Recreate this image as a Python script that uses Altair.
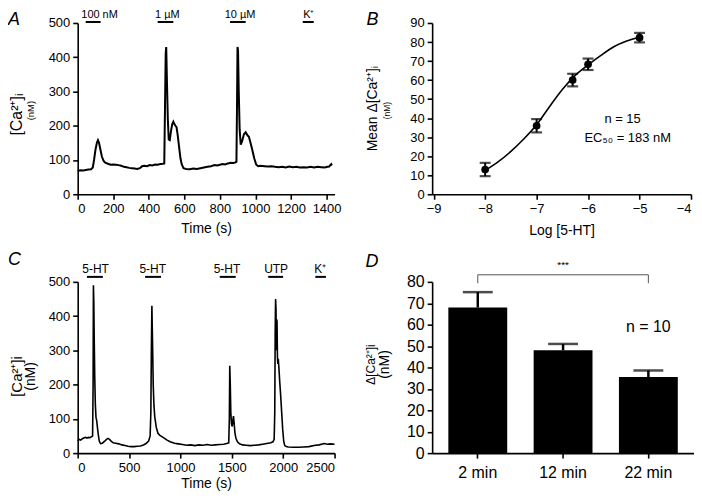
import altair as alt
import pandas as pd

FONT = "Liberation Sans"

# ---------------- Panel A : trace ----------------
a_time = [0, 15, 30, 45, 60, 75, 85, 92, 100, 108, 114, 120, 128, 136, 145, 155, 170, 185, 200, 215,
          230, 245, 260, 275, 290, 305, 320, 335, 350, 362, 375, 390, 405, 420, 435, 450, 465, 480,
          487, 491, 495, 498, 502, 507, 512, 518, 525, 532, 538, 544, 550, 556, 562, 570, 578, 585,
          595, 610, 630, 650, 670, 690, 710, 730, 750, 770, 785, 800, 815, 830, 845, 860, 875, 888,
          893, 896, 899, 902, 906, 911, 917, 925, 935, 945, 955, 963, 972, 982, 993, 1004, 1015,
          1030, 1050, 1070, 1090, 1110, 1130, 1150, 1170, 1190, 1210, 1230, 1250, 1270, 1290, 1310,
          1330, 1350, 1370, 1390, 1405, 1415, 1422, 1426, 1430]
a_ca = [68, 70, 69, 71, 72, 73, 78, 100, 130, 150, 158, 150, 130, 110, 98, 92, 89, 86, 87, 86,
        85, 83, 80, 79, 77, 76, 75, 74, 76, 82, 83, 82, 85, 84, 87, 86, 88, 89,
        90, 250, 410, 430, 330, 220, 160, 158, 185, 205, 212, 205, 200, 196, 175, 140, 105, 88,
        76, 74, 73, 75, 74, 76, 78, 80, 82, 85, 84, 86, 88, 87, 90, 92, 91, 93,
        95, 250, 430, 420, 300, 190, 145, 155, 175, 181, 172, 168, 150, 130, 105, 87, 82,
        83, 82, 81, 82, 80, 79, 80, 78, 81, 79, 80, 78, 79, 78, 80,
        78, 80, 79, 78, 80, 81, 86, 88, 84]
a_stim_label = ["100 nM", "1 µM", "10 µM", "K⁺"]
a_stim_start = [45, 450, 857, 1266]
a_stim_end = [129, 538, 945, 1328]
a_stim_mid = [123, 504, 913, 1300]

# ---------------- Panel B : concentration-response ----------------
b_log = [-8, -7, -6.3, -6, -5]
b_mean = [13, 36, 60, 68.3, 82.3]
b_sem = [3.5, 3.5, 3.3, 3.0, 2.5]
b_fit_log = [-8, -7.75, -7.5, -7.25, -7, -6.75, -6.5, -6.25, -6, -5.75, -5.5, -5.25, -5]
b_fit_val = [12.5, 17, 22.5, 29, 36.5, 46, 55, 62.5, 68, 73, 77.5, 80.5, 82.5]

# ---------------- Panel C : trace ----------------
c_time = [0, 15, 30, 45, 60, 75, 90, 105, 120, 135, 145, 150, 153, 157, 161, 166, 172, 178, 185,
          192, 200, 210, 222, 240, 260, 280, 295, 310, 325, 345, 370, 400, 430, 460, 490, 520,
          550, 580, 610, 640, 665, 690, 705, 712, 717, 722, 728, 735, 742, 750, 765, 781, 800,
          820, 845, 870, 900, 942, 980, 1020, 1060, 1100, 1140, 1180, 1220, 1260, 1300, 1340,
          1380, 1420, 1450, 1470, 1476, 1480, 1485, 1490, 1497, 1504, 1510, 1516, 1522, 1530,
          1540, 1555, 1575, 1605, 1640, 1680, 1720, 1760, 1800, 1840, 1880, 1900, 1912, 1918,
          1922, 1926, 1930, 1933, 1936, 1940, 1944, 1948, 1952, 1958, 1966, 1975, 1985, 1995,
          2005, 2015, 2030, 2050, 2100, 2150, 2200, 2250, 2300, 2350, 2400, 2430, 2460, 2500]
c_ca = [36, 40, 38, 42, 44, 46, 44, 46, 45, 48, 50, 200, 490, 440, 330, 220, 140, 105, 95,
        75, 55, 35, 28, 29, 34, 40, 43, 40, 35, 30, 29, 27, 24, 22, 20, 19,
        19, 20, 21, 24, 28, 35, 50, 120, 300, 430, 330, 200, 140, 106, 75, 58, 52,
        48, 43, 38, 33, 29, 27, 25, 23, 24, 22, 24, 23, 25, 23, 24,
        25, 26, 28, 30, 100, 255, 200, 120, 85, 78, 95, 108, 90, 60,
        43, 33, 27, 24, 23, 22, 23, 24, 26, 28, 30, 33, 40, 120,
        350, 450, 420, 300, 390, 385, 280, 260, 275, 250, 210, 170, 120, 70,
        35, 22, 19, 18, 17, 17, 18, 19, 22, 24, 28, 26, 27, 26]
c_stim_label = ["5-HT", "5-HT", "5-HT", "UTP", "K⁺"]
c_stim_start = [90, 656, 1383, 1854, 2313]
c_stim_end = [245, 811, 1538, 1999, 2416]
c_stim_mid = [174, 730, 1453, 1931, 2361]

# ---------------- Panel D : bars ----------------
d_cat = ["2 min", "12 min", "22 min"]
d_mean = [68, 48, 35.5]
d_top = [75.2, 51, 38.6]
d_bracket_cat = ["2 min", "2 min", "22 min", "22 min"]
d_bracket_val = [79.4, 83.3, 83.3, 79.4]

W1, W2, H = 258, 263, 172


def txt(s, x, y, size, **kw):
    return alt.Chart(pd.DataFrame({"s": [s]})).mark_text(
        fontSize=size, font=FONT, color="black", **kw
    ).encode(text="s:N", x=alt.value(x), y=alt.value(y))


def ytitle(s, x, y, size):
    return txt(s, x, y, size, angle=270, align="center", baseline="middle")


def letter(s, x, y):
    return txt(s, x, y, 18, fontStyle="italic", align="left", baseline="alphabetic")


# ---- A ----
scA = alt.Scale(domain=[0, 1445], nice=False, zero=False)
axA = alt.Axis(values=list(range(0, 1401, 200)), format="d", title="Time (s)", titleFontSize=14,
               labelFontSize=13, titlePadding=6)
yA = alt.Y("v:Q", scale=alt.Scale(domain=[0, 500], nice=False),
           axis=alt.Axis(values=list(range(0, 501, 100)), format="d", title=None, labelFontSize=13))
dfA = pd.DataFrame({"t": a_time, "v": a_ca})
stimA = pd.DataFrame({"lab": a_stim_label, "t": a_stim_mid, "s": a_stim_start, "e": a_stim_end})
lineA = alt.Chart(dfA).mark_line(color="black", strokeWidth=2).encode(
    x=alt.X("t:Q", scale=scA, axis=axA), y=yA)
barA = alt.Chart(stimA).mark_rule(color="black", strokeWidth=2).encode(
    x=alt.X("s:Q", scale=scA, axis=axA), x2="e:Q", y=alt.value(-1))
labA = alt.Chart(stimA).mark_text(fontSize=11, font=FONT, baseline="alphabetic").encode(
    x=alt.X("t:Q", scale=scA, axis=axA), y=alt.value(-5), text="lab:N")
A = alt.layer(lineA, barA, labA,
              ytitle("[Ca²⁺]ᵢ", -61, 92, 16), ytitle("(nM)", -47, 88, 9.5),
              letter("A", -70, 2)).properties(width=W1, height=H)

# ---- B ----
scB = alt.Scale(domain=[-9.03, -4], nice=False, zero=False)
axB = alt.Axis(values=[-9, -8, -7, -6, -5, -4], format="d", title="Log [5-HT]", titleFontSize=14,
               labelFontSize=13, titlePadding=8)
scBy = alt.Scale(domain=[0, 90], nice=False)
axBy = alt.Axis(values=list(range(0, 91, 10)), format="d", title=None, labelFontSize=13)
dfB = pd.DataFrame({"x": b_log, "m": b_mean, "lo": [m - e for m, e in zip(b_mean, b_sem)],
                    "hi": [m + e for m, e in zip(b_mean, b_sem)]})
fitB = pd.DataFrame({"x": b_fit_log, "m": b_fit_val})
curveB = alt.Chart(fitB).mark_line(color="black", strokeWidth=1.6, interpolate="monotone").encode(
    x=alt.X("x:Q", scale=scB, axis=axB), y=alt.Y("m:Q", scale=scBy, axis=axBy))
errB = alt.Chart(dfB).mark_rule(color="black", strokeWidth=2).encode(
    x=alt.X("x:Q", scale=scB, axis=axB), y=alt.Y("lo:Q", scale=scBy, axis=axBy), y2="hi:Q")
capLoB = alt.Chart(dfB).mark_tick(color="black", orient="horizontal", size=11, thickness=2.2).encode(
    x=alt.X("x:Q", scale=scB, axis=axB), y=alt.Y("lo:Q", scale=scBy, axis=axBy))
capHiB = alt.Chart(dfB).mark_tick(color="black", orient="horizontal", size=11, thickness=2.2).encode(
    x=alt.X("x:Q", scale=scB, axis=axB), y=alt.Y("hi:Q", scale=scBy, axis=axBy))
ptB = alt.Chart(dfB).mark_circle(color="black", size=60, opacity=1).encode(
    x=alt.X("x:Q", scale=scB, axis=axB), y=alt.Y("m:Q", scale=scBy, axis=axBy))
annB = pd.DataFrame({"x": [-5.33, -5.23], "m": [39.5, 29.7], "s": ["n = 15", "EC₅₀ = 183 nM"]})
annBt = alt.Chart(annB).mark_text(fontSize=13, font=FONT, baseline="middle").encode(
    x=alt.X("x:Q", scale=scB, axis=axB), y=alt.Y("m:Q", scale=scBy, axis=axBy), text="s:N")
B = alt.layer(curveB, errB, capLoB, capHiB, ptB, annBt,
              ytitle("Mean Δ[Ca²⁺]ᵢ", -59, 86, 14), ytitle("(nM)", -45, 88, 8.5),
              letter("B", -66, 2)).properties(width=W2 - 3, height=H)

# ---- C ----
scC = alt.Scale(domain=[0, 2500], nice=False, zero=False)
axC = alt.Axis(values=list(range(0, 2501, 500)), format="d", title="Time (s)", titleFontSize=14,
               labelFontSize=13, titlePadding=3)
yC = alt.Y("v:Q", scale=alt.Scale(domain=[0, 500], nice=False),
           axis=alt.Axis(values=list(range(0, 501, 100)), format="d", title=None, labelFontSize=13))
dfC = pd.DataFrame({"t": c_time, "v": c_ca})
stimC = pd.DataFrame({"lab": c_stim_label, "t": c_stim_mid, "s": c_stim_start, "e": c_stim_end})
lineC = alt.Chart(dfC).mark_line(color="black", strokeWidth=1.6).encode(
    x=alt.X("t:Q", scale=scC, axis=axC), y=yC)
barC = alt.Chart(stimC).mark_rule(color="black", strokeWidth=2).encode(
    x=alt.X("s:Q", scale=scC, axis=axC), x2="e:Q", y=alt.value(-5))
labC = alt.Chart(stimC).mark_text(fontSize=12, font=FONT, baseline="alphabetic").encode(
    x=alt.X("t:Q", scale=scC, axis=axC), y=alt.value(-9), text="lab:N")
C = alt.layer(lineC, barC, labC,
              ytitle("[Ca²⁺]i", -61, 95, 15), ytitle("(nM)", -47, 95, 14),
              letter("C", -70, -17)).properties(width=W1, height=H)

# ---- D ----
scDx = alt.Scale(domain=d_cat, paddingInner=0.31, paddingOuter=0.19)
axDx = alt.Axis(title=None, labelAngle=0, labelFontSize=16, labelPadding=6)
scDy = alt.Scale(domain=[0, 80], nice=False)
axDy = alt.Axis(values=list(range(0, 81, 10)), format="d", title=None, labelFontSize=16)
dfD = pd.DataFrame({"cat": d_cat, "m": d_mean, "top": d_top})
barsD = alt.Chart(dfD).mark_bar(color="black").encode(
    x=alt.X("cat:N", scale=scDx, axis=axDx, sort=d_cat), y=alt.Y("m:Q", scale=scDy, axis=axDy))
errD = alt.Chart(dfD).mark_rule(color="black", strokeWidth=2.5).encode(
    x=alt.X("cat:N", scale=scDx, axis=axDx, sort=d_cat), y=alt.Y("m:Q", scale=scDy, axis=axDy),
    y2="top:Q")
capD = alt.Chart(dfD).mark_tick(color="black", orient="horizontal", size=30, thickness=2.5).encode(
    x=alt.X("cat:N", scale=scDx, axis=axDx, sort=d_cat), y=alt.Y("top:Q", scale=scDy, axis=axDy))
brD = pd.DataFrame({"cat": d_bracket_cat, "v": d_bracket_val, "o": [0, 1, 2, 3]})
bracketD = alt.Chart(brD).mark_line(color="#555555", strokeWidth=1).encode(
    x=alt.X("cat:N", scale=scDx, axis=axDx, sort=d_cat), y=alt.Y("v:Q", scale=scDy, axis=axDy),
    order="o:Q")
annD = pd.DataFrame({"cat": ["12 min", "22 min"], "v": [88, 59], "s": ["***", "n = 10"]})
starD = alt.Chart(annD.iloc[[0]]).mark_text(fontSize=10, font=FONT, baseline="middle").encode(
    x=alt.X("cat:N", scale=scDx, axis=axDx, sort=d_cat), y=alt.Y("v:Q", scale=scDy, axis=axDy),
    text="s:N")
nD = alt.Chart(annD.iloc[[1]]).mark_text(fontSize=16, font=FONT, baseline="middle").encode(
    x=alt.X("cat:N", scale=scDx, axis=axDx, sort=d_cat), y=alt.Y("v:Q", scale=scDy, axis=axDy),
    text="s:N")
D = alt.layer(barsD, errD, capD, bracketD, starD, nD,
              ytitle("Δ[Ca²⁺]i", -61, 83, 12), ytitle("(nM)", -47, 83, 14),
              letter("D", -67, -15)).properties(width=W2, height=H)

chart = alt.concat(A, B, C, D, columns=2, spacing={"row": 88, "column": 98},
                   bounds="flush").properties(padding=0).configure(
    font=FONT
).configure_view(stroke=None).configure_axis(
    grid=False, domainColor="black", tickColor="black", labelColor="black",
    titleColor="black", domainWidth=1.6, tickWidth=1.6, tickSize=5, labelFont=FONT,
    titleFont=FONT, titleFontWeight="normal", labelPadding=3
)

chart.save("out.html", embed_options={"renderer": "svg", "actions": False})
